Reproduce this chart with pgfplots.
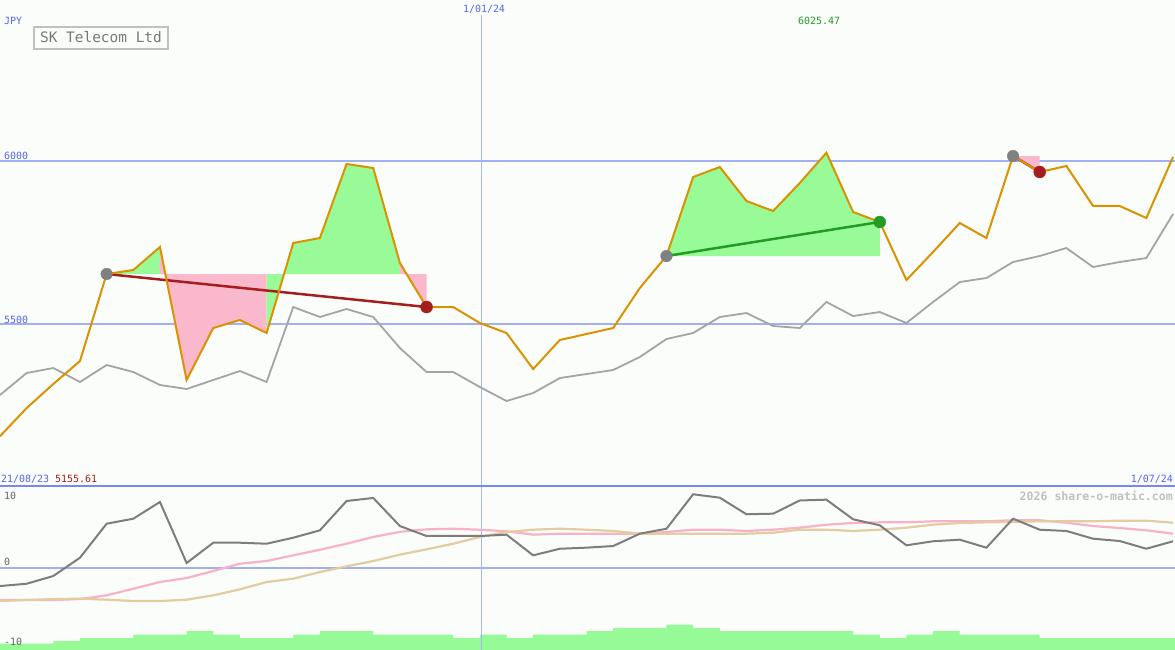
\documentclass[border=0pt]{standalone}
\usepackage{pgfplots}
\pgfplotsset{compat=1.18}
\usepackage{pgfplotstable}
\usepackage{fontspec}
\setmainfont{DejaVu Sans Mono}
\definecolor{bgc}{RGB}{251,253,251}
\definecolor{orng}{RGB}{218,146,0}
\definecolor{gline}{RGB}{164,164,164}
\definecolor{mline}{RGB}{125,125,125}
\definecolor{pline}{RGB}{248,178,200}
\definecolor{tline}{RGB}{226,204,160}
\definecolor{gfill}{RGB}{152,251,152}
\definecolor{pfill}{RGB}{250,184,204}
\definecolor{tred}{RGB}{165,30,30}
\definecolor{tgreen}{RGB}{34,156,34}
\definecolor{dotgray}{RGB}{128,128,128}
\definecolor{lblue}{RGB}{84,100,240}
\definecolor{gridb}{RGB}{162,176,240}
\definecolor{divb}{RGB}{120,136,240}
\definecolor{vline}{RGB}{170,182,236}
\definecolor{wmark}{RGB}{192,192,192}
\definecolor{lblgray}{RGB}{100,100,100}
\definecolor{ttl}{RGB}{120,120,120}
\definecolor{boxg}{RGB}{192,192,192}
\definecolor{volg}{RGB}{150,250,150}

\pgfplotstableread{
i price idx
0 5155.61 5282.2
1 5242.3 5349.7
2 5315.9 5365.0
3 5386.5 5322.1
4 5653.4 5374.2
5 5665.6 5352.8
6 5736.2 5312.9
7 5328.2 5300.6
8 5487.7 5328.2
9 5512.3 5355.8
10 5472.4 5322.1
11 5748.5 5552.1
12 5763.8 5521.5
13 5990.8 5546.0
14 5978.5 5521.5
15 5687.1 5426.4
16 5552.1 5352.8
17 5552.1 5352.8
18 5503.1 5306.7
19 5472.4 5263.8
20 5361.9 5288.3
21 5450.9 5334.3
22 5469.3 5346.6
23 5487.7 5358.9
24 5610.4 5398.8
25 5708.6 5454.0
26 5950.9 5472.4
27 5981.6 5521.5
28 5877.3 5533.7
29 5846.6 5493.9
30 5932.5 5487.7
31 6025.47 5567.5
32 5843.6 5524.5
33 5812.9 5536.8
34 5634.9 5503.1
35 5720.9 5567.5
36 5809.8 5628.8
37 5763.8 5641.1
38 6015.3 5690.2
39 5966.3 5708.6
40 5984.7 5733.1
41 5862.0 5674.8
42 5862.0 5690.2
43 5825.2 5702.4
44 6012.3 5837.4
}\toptable

\pgfplotstableread{
i mom maa mab
0 -2.73 -4.85 -5.00
1 -2.38 -4.85 -4.85
2 -1.21 -4.85 -4.70
3 1.56 -4.70 -4.65
4 6.71 -4.14 -4.80
5 7.47 -3.14 -5.00
6 10.00 -2.12 -5.00
7 0.76 -1.52 -4.80
8 3.83 -0.45 -4.14
9 3.83 0.65 -3.23
10 3.68 1.06 -2.12
11 4.59 1.92 -1.62
12 5.71 2.77 -0.61
13 10.15 3.68 0.26
14 10.61 4.70 1.06
15 6.36 5.48 2.02
16 4.85 5.86 2.83
17 4.85 5.95 3.68
18 4.85 5.80 4.70
19 5.05 5.56 5.45
20 1.92 5.05 5.80
21 2.92 5.20 5.95
22 3.08 5.20 5.80
23 3.33 5.20 5.61
24 5.20 5.20 5.20
25 5.95 5.45 5.20
26 11.17 5.80 5.20
27 10.65 5.80 5.20
28 8.14 5.61 5.20
29 8.23 5.80 5.35
30 10.23 6.11 5.80
31 10.35 6.56 5.80
32 7.38 6.82 5.61
33 6.47 6.92 5.80
34 3.44 6.92 6.11
35 4.05 7.08 6.56
36 4.29 7.08 6.82
37 3.08 7.08 6.92
38 7.47 7.23 6.97
39 5.80 7.23 7.08
40 5.61 6.86 7.08
41 4.44 6.36 7.08
42 4.09 6.06 7.17
43 2.92 5.71 7.17
44 4.05 5.20 6.86
}\bottable

\begin{document}
\begin{tikzpicture}
\useasboundingbox (0,0) rectangle (1175bp,-650bp);
\fill[bgc] (0,0) rectangle (1175bp,-650bp);

% ---------------- top panel ----------------
\begin{axis}[at={(0,0)}, anchor=north west, scale only axis,
  width=1175bp, height=487bp,
  xmin=0, xmax=44.075, ymin=5000, ymax=6493.9,
  axis lines=none, xtick=\empty, ytick=\empty, clip=true]
\draw[gridb, line width=2bp] (axis cs:0,6000) -- (axis cs:44.075,6000);
\draw[gridb, line width=2bp] (axis cs:0,5500) -- (axis cs:44.075,5500);
\draw[vline, line width=1.3bp] (axis cs:18.06,6447.9) -- (axis cs:18.06,5000);
% trade fills
\addplot[fill=gfill, draw=none] coordinates {(4,5653.4) (5,5665.6) (6,5736.2) (6,5653.4)};
\addplot[fill=pfill, draw=none] coordinates {(6,5653.4) (6,5736.2) (7,5328.2) (8,5487.7) (9,5512.3) (10,5472.4) (10,5653.4)};
\addplot[fill=gfill, draw=none] coordinates {(10,5653.4) (10,5472.4) (11,5748.5) (12,5763.8) (13,5990.8) (14,5978.5) (15,5687.1) (15,5653.4)};
\addplot[fill=pfill, draw=none] coordinates {(15,5653.4) (15,5687.1) (16,5552.1) (16,5653.4)};
\addplot[fill=gfill, draw=none] coordinates {(25,5708.6) (26,5950.9) (27,5981.6) (28,5877.3) (29,5846.6) (30,5932.5) (31,6025.47) (32,5843.6) (33,5812.9) (33,5708.6)};
\addplot[fill=pfill, draw=none] coordinates {(38,6015.3) (39,5966.3) (39,6015.3)};
% comparison index
\addplot[gline, line width=1.8bp] table[x=i, y=idx] {\toptable};
% trade lines
\addplot[tred, line width=2.5bp] coordinates {(4,5653.4) (16,5552.1)};
\addplot[tgreen, line width=2.5bp] coordinates {(25,5708.6) (33,5812.9)};
\addplot[tred, line width=2.5bp] coordinates {(38,6015.3) (39,5966.3)};
% price
\addplot[orng, line width=2bp] table[x=i, y=price] {\toptable};
% markers
\addplot[only marks, mark=*, mark size=5.8bp, dotgray, mark options={draw=dotgray, fill=dotgray}] coordinates {(4,5653.4) (25,5708.6) (38,6015.3)};
\addplot[only marks, mark=*, mark size=6bp, tred, mark options={draw=tred, fill=tred}] coordinates {(16,5552.1) (39,5966.3)};
\addplot[only marks, mark=*, mark size=6bp, tgreen, mark options={draw=tgreen, fill=tgreen}] coordinates {(33,5812.9)};
\end{axis}

% ---------------- volume (bottom panel, behind) ----------------
\begin{axis}[at={(0,-487bp)}, anchor=north west, scale only axis,
  width=1175bp, height=163bp,
  xmin=0, xmax=44.075, ymin=0, ymax=163,
  axis lines=none, xtick=\empty, ytick=\empty, clip=true]
\addplot[const plot, fill=volg, draw=none] coordinates {
(0,6.3) (1,6.3) (2,9) (3,12) (4,12) (5,15.3) (6,15.3) (7,19) (8,15.3) (9,12)
(10,12) (11,15.3) (12,19) (13,19) (14,15.3) (15,15.3) (16,15.3) (17,12) (18,15.3) (19,12)
(20,15.3) (21,15.3) (22,19) (23,22) (24,22) (25,25.3) (26,22) (27,19) (28,19) (29,19)
(30,19) (31,19) (32,15.3) (33,12) (34,15.3) (35,19) (36,15.3) (37,15.3) (38,15.3) (39,12)
(40,12) (41,12) (42,12) (43,12) (44,12) (44.075,12)} \closedcycle;
\end{axis}

% ---------------- oscillator (bottom panel) ----------------
\begin{axis}[at={(0,-487bp)}, anchor=north west, scale only axis,
  width=1175bp, height=163bp,
  xmin=0, xmax=44.075, ymin=-12.42, ymax=12.27,
  axis lines=none, xtick=\empty, ytick=\empty, clip=true]
\draw[gridb, line width=2bp] (axis cs:0,0) -- (axis cs:44.075,0);
\draw[vline, line width=1.3bp] (axis cs:18.06,-12.42) -- (axis cs:18.06,12.27);
\addplot[pline, line width=2.2bp] table[x=i, y=maa] {\bottable};
\addplot[tline, line width=2.2bp] table[x=i, y=mab] {\bottable};
\addplot[mline, line width=2bp] table[x=i, y=mom] {\bottable};
\end{axis}

% divider
\draw[divb, line width=2.5bp] (0,-486bp) -- (1175bp,-486bp);

% ---------------- texts ----------------
\begin{scope}[every node/.style={inner sep=0pt, font=\fontsize{10}{12}\selectfont}]
\node[anchor=west, text=lblue] at (4bp,-21bp) {JPY};
\node[draw=boxg, line width=2bp, fill=bgc, minimum width=134bp, minimum height=22bp, anchor=north west, text=ttl, font=\fontsize{14.5}{16}\selectfont] at (33bp,-25.5bp) {SK Telecom Ltd};
\node[text=lblue] at (484bp,-9bp) {1/01/24};
\node[text=tgreen] at (819bp,-21bp) {6025.47};
\node[anchor=west, text=lblue] at (4bp,-156bp) {6000};
\node[anchor=west, text=lblue] at (4bp,-319.5bp) {5500};
\node[anchor=west] at (1bp,-479bp) {\textcolor{lblue}{21/08/23} \textcolor{tred}{5155.61}};
\node[anchor=east, text=lblue] at (1173bp,-479bp) {1/07/24};
\node[anchor=east, text=wmark, font=\fontsize{11.6}{13}\selectfont\bfseries] at (1173bp,-496bp) {2026 share-o-matic.com};
\node[anchor=west, text=lblgray] at (4bp,-496bp) {10};
\node[anchor=west, text=lblgray] at (4bp,-562bp) {0};
\node[anchor=west, text=lblgray] at (4bp,-642bp) {-10};
\end{scope}
\end{tikzpicture}
\end{document}
